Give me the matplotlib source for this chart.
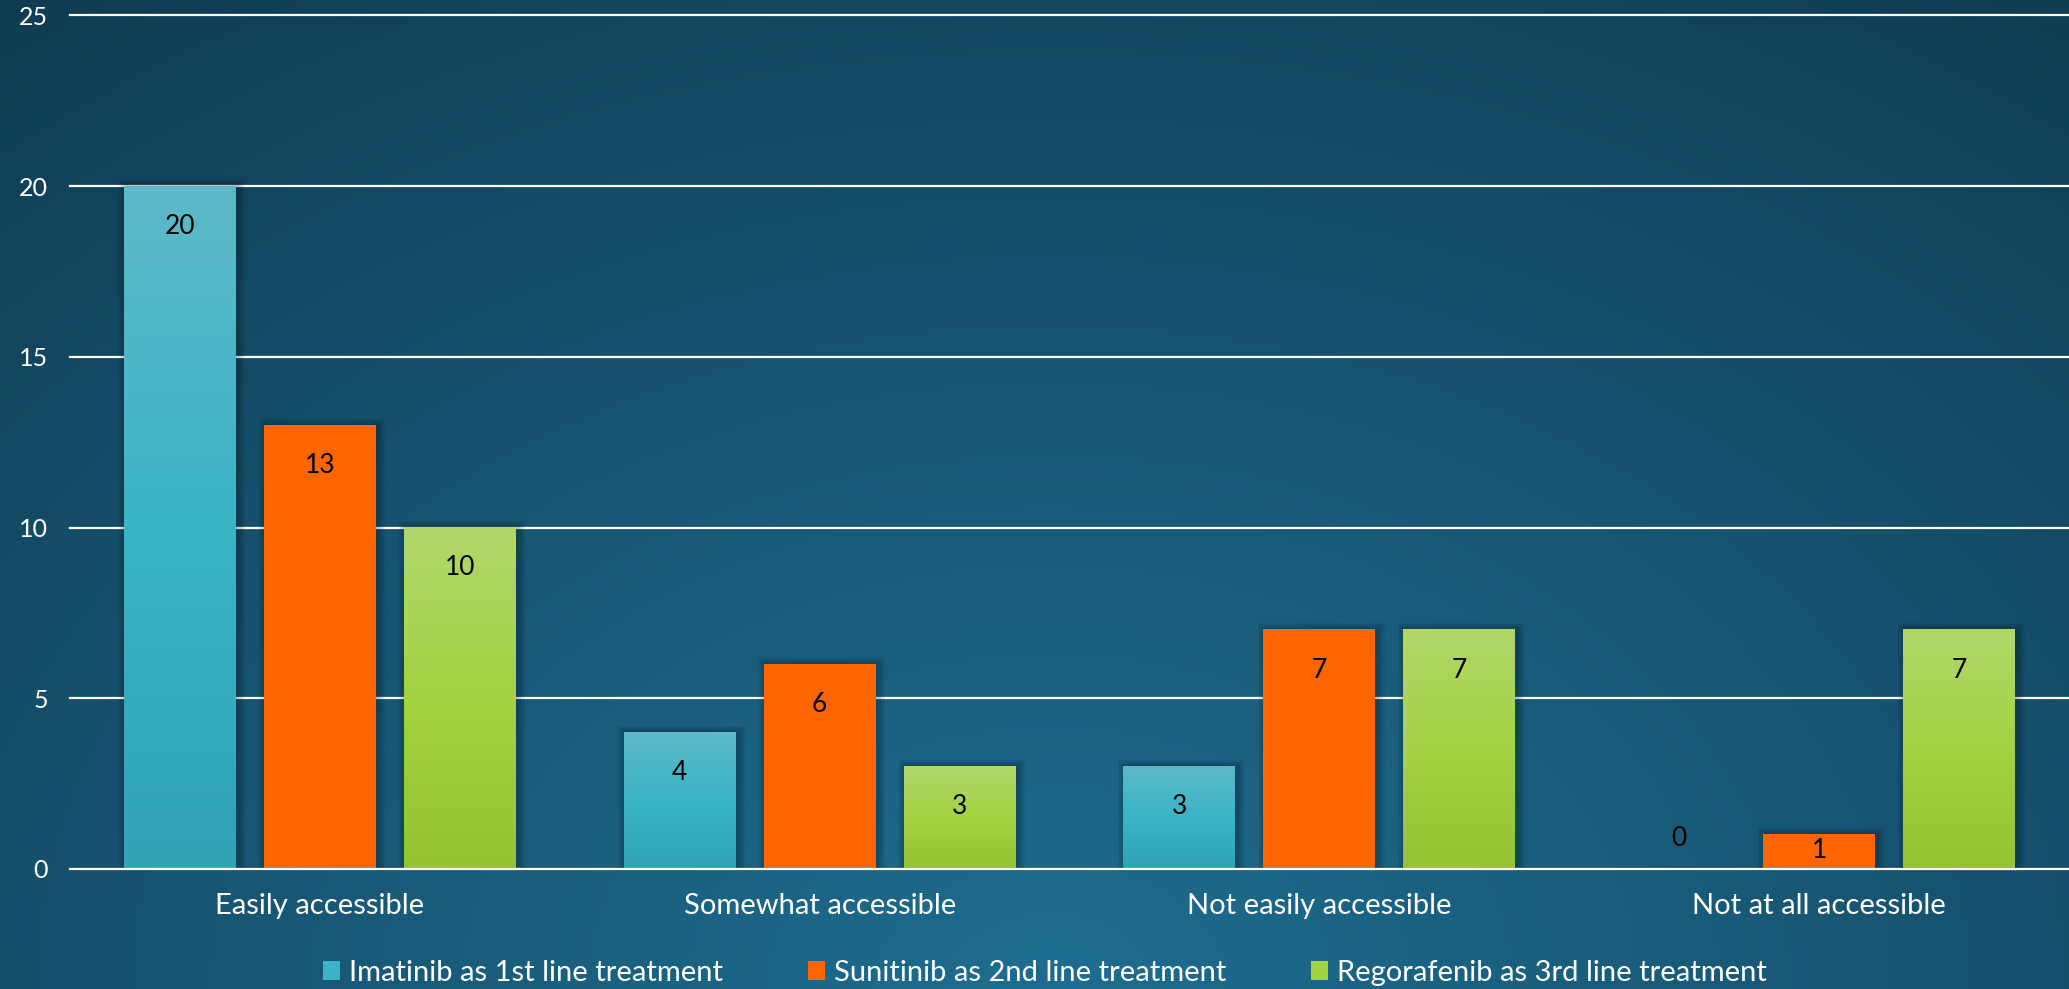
import matplotlib
matplotlib.use("Agg")
import matplotlib.pyplot as plt
import numpy as np
from matplotlib.colors import LinearSegmentedColormap, to_rgb
from matplotlib.patches import Patch, Rectangle

plt.rcParams['font.family'] = ['Lato', 'DejaVu Sans']

categories = ["Easily accessible", "Somewhat accessible", "Not easily accessible", "Not at all accessible"]
series = ["Imatinib as 1st line treatment", "Sunitinib as 2nd line treatment",
          "Regorafenib as 3rd line treatment"]
imatinib = [20, 4, 3, 0]
sunitinib = [13, 6, 7, 1]
regorafenib = [10, 3, 7, 7]
yticks = [0, 5, 10, 15, 20, 25]

# top, middle, bottom of each bar's gradient
colors = [["#5db9c7", "#3ab4c6", "#30a3b5"],
          ["#ff6600", "#ff6600", "#ff6600"],
          ["#b1d76b", "#a3d343", "#95c331"]]

W, H = 2069, 989
fig = plt.figure(figsize=(W / 100, H / 100), dpi=100)

# background: radial glow from bottom centre
bg = fig.add_axes([0, 0, 1, 1], zorder=0)
bg.axis('off')
yy, xx = np.mgrid[0:H, 0:W]
r = np.sqrt(((xx - 1050) / 1800.0) ** 2 + ((yy - H) / 1300.0) ** 2).clip(0, 1)
light = np.array(to_rgb("#1e6d90"))
dark = np.array(to_rgb("#0f3a50"))
img = light * (1 - r[..., None]) + dark * r[..., None]
bg.imshow(img, extent=[0, 1, 0, 1], aspect='auto')
bg.set_xlim(0, 1)
bg.set_ylim(0, 1)

ax = fig.add_axes([70 / W, 1 - 869 / H, 1 - 70 / W, (869 - 15.25) / H], zorder=1)
ax.patch.set_alpha(0)

x = np.arange(len(categories))
width = 0.224
step = 0.28

for t in yticks:
    ax.axhline(t, color='white', lw=1.6, zorder=6 if t == 0 else 1, clip_on=False)

for i, (vals, cols) in enumerate(zip([imatinib, sunitinib, regorafenib], colors)):
    pos = x + (i - 1) * step
    bars = ax.bar(pos, vals, width, color=cols[1], zorder=3, linewidth=0)
    cmap = LinearSegmentedColormap.from_list("s%d" % i, cols[::-1])
    grad = np.linspace(0, 1, 256).reshape(-1, 1)
    for b, v in zip(bars, vals):
        if v == 0:
            continue
        # soft shadow
        for k in range(1, 6):
            ax.add_patch(Rectangle((b.get_x() + 0.004 - k * 0.003, 0), width + 2 * k * 0.003,
                                   v + k * 0.04, color='black', alpha=0.05, lw=0, zorder=2))
        ax.imshow(grad, cmap=cmap, extent=[b.get_x(), b.get_x() + width, 0, v],
                  origin='lower', aspect='auto', zorder=4)
    for p, v in zip(pos, vals):
        ly = v - 1.18 if v >= 2 else (v * 0.53 if v > 0 else 0.88)
        ax.text(p, ly, str(v), ha='center', va='center', fontsize=19, color='black', zorder=5)

ax.set_xlim(-0.5, 3.5)
ax.set_ylim(0, 25)
for s in ax.spines.values():
    s.set_visible(False)
ax.set_yticks(yticks)
ax.set_xticks(x)
ax.set_xticklabels(categories)
ax.tick_params(axis='y', length=0, colors='white', labelsize=18, pad=16)
ax.tick_params(axis='x', length=0, colors='white', labelsize=21, pad=17)

handles = [Patch(facecolor=c[1], edgecolor='none') for c in colors]
fig.legend(handles, series, loc='center', bbox_to_anchor=(1045 / W, 1 - 973 / H), ncol=3,
           frameon=False, fontsize=21, labelcolor='white', handlelength=0.6, handleheight=0.6,
           handletextpad=0.3, columnspacing=2.9)

fig.savefig('out.png', dpi=100)
